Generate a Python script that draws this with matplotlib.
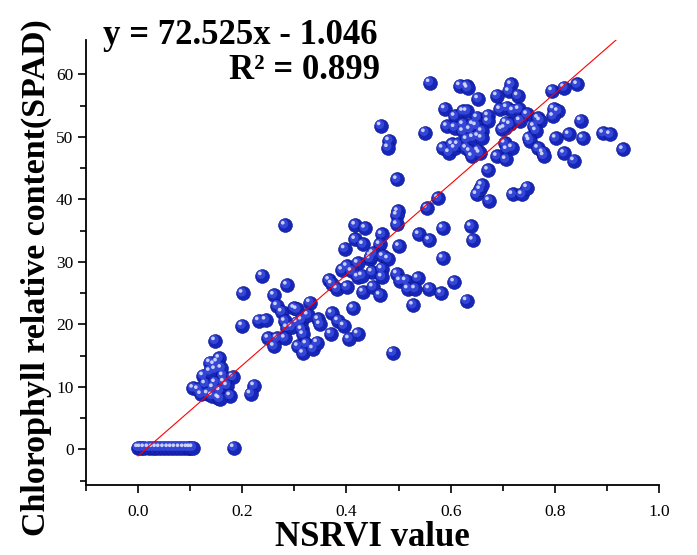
import numpy as np
import matplotlib
matplotlib.use("Agg")
import matplotlib.pyplot as plt
from matplotlib.transforms import offset_copy

# points, grouped by cluster
low_x = [0.0, 0.005, 0.012, 0.02, 0.028, 0.035, 0.042, 0.05, 0.058, 0.065,
         0.072, 0.08, 0.088, 0.095, 0.1, 0.105, 0.184]
low_y = [0.3, 0.3, 0.3, 0.3, 0.3, 0.3, 0.3, 0.3, 0.3, 0.3,
         0.3, 0.3, 0.3, 0.3, 0.3, 0.3, 0.3]

small_x = [0.148, 0.156, 0.138, 0.146, 0.152, 0.125, 0.148, 0.163, 0.182, 0.106,
           0.129, 0.148, 0.144, 0.157, 0.171, 0.177, 0.134, 0.121, 0.154, 0.142,
           0.157, 0.138, 0.160, 0.165, 0.115, 0.223, 0.216]
small_y = [17.4, 14.6, 13.9, 13.6, 14.0, 11.8, 12.8, 11.8, 11.6, 9.8,
           10.5, 10.7, 9.9, 9.4, 10.2, 8.6, 8.9, 8.8, 8.3, 8.6,
           8.1, 12.5, 13.0, 10.8, 9.6, 10.2, 8.9]

mid_x = [0.282, 0.417, 0.436, 0.499, 0.497, 0.497, 0.468, 0.417, 0.432, 0.464,
         0.397, 0.501, 0.451, 0.445, 0.470, 0.480, 0.422, 0.401, 0.392, 0.449,
         0.468, 0.468, 0.422, 0.497, 0.503, 0.367, 0.372, 0.382, 0.401, 0.432,
         0.451, 0.464, 0.413, 0.201, 0.238, 0.286, 0.261, 0.330, 0.372, 0.384,
         0.395, 0.370, 0.422, 0.405, 0.489, 0.200, 0.232, 0.245, 0.267, 0.276,
         0.300, 0.305, 0.282, 0.286, 0.314, 0.314, 0.317, 0.346, 0.349, 0.307,
         0.317, 0.323, 0.336, 0.344, 0.250, 0.267, 0.282, 0.261, 0.326, 0.305,
         0.295, 0.447, 0.410, 0.430]
mid_y = [35.9, 35.9, 35.4, 38.1, 37.5, 36.0, 34.4, 33.6, 32.8, 32.8,
         32.1, 32.5, 31.4, 30.5, 30.9, 30.5, 29.8, 29.3, 28.7, 28.4,
         28.9, 27.6, 27.6, 28.1, 27.0, 27.1, 26.5, 25.7, 26.0, 25.2,
         26.0, 24.7, 22.6, 25.0, 27.8, 26.3, 24.7, 23.5, 21.8, 20.6,
         19.8, 18.5, 18.5, 17.7, 15.5, 19.8, 20.6, 20.7, 23.0, 22.0,
         22.6, 22.4, 20.5, 19.5, 20.7, 19.2, 18.4, 20.8, 20.0, 16.5,
         15.4, 16.9, 16.1, 17.1, 17.8, 17.8, 17.8, 16.5, 21.5, 20.3,
         19.6, 31.0, 28.5, 27.8]

side_x = [0.497, 0.576, 0.555, 0.650, 0.657, 0.660, 0.674, 0.672, 0.539, 0.559,
          0.585, 0.639, 0.643, 0.585, 0.514, 0.537, 0.607, 0.518, 0.532, 0.559,
          0.582, 0.631, 0.528, 0.719, 0.737, 0.747, 0.466, 0.482, 0.480]
side_y = [43.2, 40.2, 38.6, 40.8, 41.6, 42.3, 39.8, 44.7, 34.4, 33.5,
          35.4, 35.7, 33.5, 30.6, 27.0, 27.4, 26.8, 25.7, 25.7, 25.7,
          25.0, 23.8, 23.1, 40.8, 40.8, 41.9, 51.8, 49.4, 48.3]

top_x = [0.560, 0.618, 0.631, 0.633, 0.716, 0.712, 0.729, 0.795, 0.818, 0.843,
         0.653, 0.689, 0.589, 0.608, 0.624, 0.631, 0.651, 0.672, 0.672, 0.695,
         0.708, 0.720, 0.731, 0.747, 0.768, 0.772, 0.798, 0.806, 0.797, 0.850,
         0.551, 0.593, 0.608, 0.624, 0.643, 0.649, 0.624, 0.637, 0.653, 0.660,
         0.706, 0.714, 0.704, 0.733, 0.699, 0.760, 0.764, 0.893, 0.906, 0.802,
         0.827, 0.854, 0.931, 0.585, 0.597, 0.608, 0.603, 0.614, 0.631, 0.630,
         0.637, 0.641, 0.653, 0.656, 0.643, 0.660, 0.704, 0.708, 0.718, 0.689,
         0.706, 0.750, 0.752, 0.768, 0.777, 0.779, 0.818, 0.837]
top_y = [58.7, 58.2, 58.1, 57.8, 58.4, 57.3, 56.6, 57.4, 57.9, 58.4,
         56.1, 56.6, 54.5, 53.3, 54.1, 54.1, 53.1, 53.4, 52.5, 54.4,
         54.7, 54.2, 54.4, 53.6, 53.0, 52.6, 54.5, 54.1, 53.3, 52.6,
         50.7, 51.7, 51.5, 52.0, 52.0, 51.8, 50.9, 51.2, 50.1, 50.9,
         52.3, 52.0, 51.4, 52.6, 51.2, 51.7, 51.0, 50.6, 50.4, 49.8,
         50.4, 49.8, 48.0, 48.2, 47.5, 48.2, 48.8, 48.8, 49.6, 48.2,
         47.7, 46.9, 47.8, 47.4, 49.9, 49.8, 49.0, 48.0, 48.3, 46.9,
         46.4, 49.8, 49.4, 48.2, 47.5, 47.0, 47.4, 46.2]

x = np.array(low_x + small_x + mid_x + side_x + top_x)
y = np.array(low_y + small_y + mid_y + side_y + top_y)

slope = 72.525
intercept = -1.046

fig = plt.figure(figsize=(6.97, 5.55), dpi=100)
ax = fig.add_axes([86 / 697, 70 / 555, 573 / 697, 445 / 555])

ymin, ymax = -5.7, 65.5
ax.set_xlim(-0.1, 1.0)
ax.set_ylim(ymin, ymax)

# sphere-like markers: dark body, lighter core, white glint
ax.scatter(x, y, s=100, color="#1626b8", edgecolors="#0a148c", linewidths=0.4, zorder=3)
core = offset_copy(ax.transData, fig=fig, x=-0.8, y=0.8, units="points")
ax.scatter(x, y, s=42, color="#3446d6", edgecolors="none", transform=core, zorder=4)
glint = offset_copy(ax.transData, fig=fig, x=-1.6, y=1.6, units="points")
ax.scatter(x, y, s=7, color="#dde0ff", edgecolors="none", alpha=0.9, transform=glint, zorder=5)

# fitted line
xl = np.array([0.0, (ymax - intercept) / slope])
ax.plot(xl, slope * xl + intercept, color="red", lw=0.8, zorder=6)

for s in ["top", "right"]:
    ax.spines[s].set_visible(False)
for s in ["left", "bottom"]:
    ax.spines[s].set_linewidth(1.3)

ax.set_xticks(np.arange(0, 1.01, 0.2))
ax.set_xticks(np.arange(-0.1, 1.01, 0.1), minor=True)
ax.set_yticks(np.arange(0, 61, 10))
ax.set_yticks(np.arange(-5, 61, 5), minor=True)
ax.xaxis.set_major_formatter(plt.FuncFormatter(lambda v, p: f"{v:.1f}"))
ax.tick_params(which="major", direction="out", length=6, width=1.2)
ax.tick_params(which="minor", direction="out", length=4, width=1.2)
ax.tick_params(axis="x", pad=8)
ax.tick_params(axis="y", pad=3)
for lab in ax.get_xticklabels() + ax.get_yticklabels():
    lab.set_fontfamily("Liberation Serif")
    lab.set_fontsize(12.5)

bold = dict(family="Liberation Serif", weight="bold")
ax.set_xlabel("NSRVI value", fontsize=25, **bold)
ax.set_ylabel("Chlorophyll relative content(SPAD)", fontsize=24.5, **bold)
ax.xaxis.set_label_coords(0.5, -0.082)
ax.yaxis.set_label_coords(-0.06, 0.465)

fig.text(103 / 697, 1 - 44 / 555, "y = 72.525x - 1.046", fontsize=25, **bold)
fig.text(380 / 697, 1 - 79 / 555, "R² = 0.899", fontsize=25, ha="right", **bold)

fig.savefig("out.png", dpi=100)
